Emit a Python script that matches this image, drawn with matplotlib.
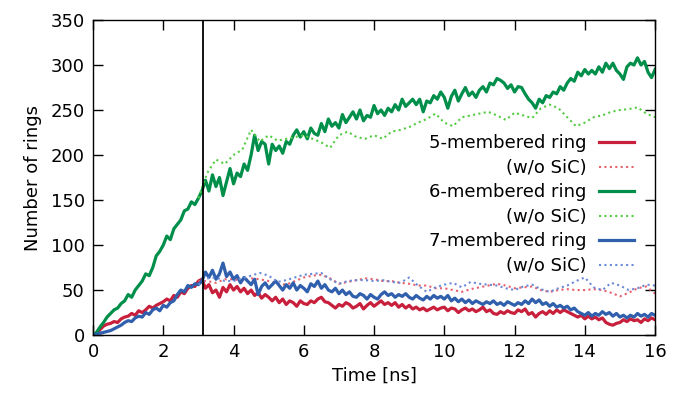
import numpy as np
import matplotlib
matplotlib.use("Agg")
import matplotlib.pyplot as plt

# time axis for the SiC runs (0.1 ns steps) and the w/o SiC runs (0.25 ns steps, after the split)
t = np.round(np.arange(0, 16.01, 0.1), 2)
t_ref = np.round(np.arange(3.0, 16.01, 0.25), 2)
t_sic = 3.13  # SiC inserted here

ring5 = [0, 2, 6, 10, 12, 13, 15, 14, 18, 20,
         21, 24, 22, 27, 25, 28, 32, 30, 33, 35,
         37, 40, 38, 44, 42, 48, 46, 52, 55, 54,
         60, 62, 52, 56, 47, 50, 42, 53, 48, 56,
         50, 54, 48, 52, 46, 50, 44, 47, 41, 45,
         42, 38, 42, 36, 40, 34, 38, 36, 32, 38,
         35, 34, 38, 36, 40, 42, 37, 36, 33, 30,
         34, 32, 36, 34, 30, 32, 35, 29, 33, 36,
         32, 35, 38, 34, 36, 33, 36, 31, 34, 30,
         33, 29, 31, 28, 30, 27, 29, 31, 28, 30,
         31, 27, 30, 29, 25, 28, 30, 27, 29, 26,
         28, 31, 26, 28, 24, 23, 26, 24, 27, 25,
         24, 28, 26, 29, 23, 25, 20, 24, 26, 23,
         27, 24, 28, 25, 28, 26, 24, 22, 20, 22,
         18, 21, 18, 20, 17, 19, 14, 12, 11, 13,
         14, 17, 15, 18, 16, 17, 14, 18, 16, 19,
         17]

ring6 = [0, 3, 9, 14, 20, 24, 28, 30, 35, 38,
         45, 42, 50, 55, 60, 68, 66, 75, 88, 93,
         100, 110, 106, 118, 123, 128, 138, 140, 148, 145,
         152, 160, 172, 160, 178, 165, 175, 155, 170, 185,
         168, 180, 176, 190, 183, 200, 222, 205, 215, 212,
         190, 212, 205, 210, 202, 215, 212, 222, 228, 220,
         226, 218, 230, 224, 222, 235, 226, 240, 232, 236,
         230, 245, 236, 242, 248, 240, 250, 238, 244, 242,
         255, 246, 250, 244, 252, 248, 256, 250, 262, 254,
         258, 262, 256, 262, 248, 260, 258, 266, 262, 270,
         264, 252, 265, 272, 260, 268, 275, 266, 270, 264,
         272, 276, 270, 280, 278, 285, 283, 280, 274, 278,
         270, 276, 275, 268, 262, 258, 252, 262, 258, 266,
         264, 270, 268, 276, 272, 280, 285, 282, 292, 288,
         295, 290, 294, 290, 298, 292, 302, 296, 302, 294,
         290, 284, 298, 302, 300, 308, 300, 304, 292, 286,
         295]

ring7 = [0, 1, 2, 3, 4, 5, 7, 9, 11, 14,
         16, 15, 19, 21, 20, 25, 23, 28, 30, 27,
         33, 31, 36, 38, 45, 50, 48, 55, 53, 57,
         56, 60, 70, 64, 72, 62, 68, 80, 65, 70,
         62, 66, 58, 64, 60, 56, 62, 45, 54, 58,
         52, 56, 60, 55, 50, 56, 52, 58, 50, 55,
         52, 48, 57, 54, 60, 52, 56, 50, 48, 52,
         46, 50, 45, 48, 43, 42, 46, 44, 40, 45,
         42, 40, 45, 48, 44, 46, 42, 45, 43, 46,
         42, 40, 44, 41, 39, 43, 40, 44, 41, 43,
         40, 44, 38, 41, 37, 40, 36, 39, 35, 38,
         36, 34, 37, 35, 38, 34, 36, 33, 37, 35,
         33, 36, 34, 38, 35, 40, 36, 39, 34, 36,
         32, 35, 31, 33, 30, 32, 28, 30, 26, 24,
         22, 25, 21, 24, 22, 26, 23, 25, 21, 24,
         20, 22, 19, 22, 20, 24, 21, 23, 20, 24,
         22]

ring5_ref = [60, 60, 58, 62, 62, 60, 63, 62, 60, 57, 56, 60, 64, 66, 67, 63,
             57, 59, 61, 63, 62, 60, 60, 58, 57, 55, 55, 52, 52, 50, 48, 51,
             53, 55, 57, 55, 52, 53, 54, 50, 48, 50, 51, 50, 50, 51, 50, 47,
             43, 47, 52, 54, 46]
ring6_ref = [152, 180, 195, 190, 200, 206, 228, 215, 222, 216, 218, 220, 222, 218, 214, 208,
             222, 226, 220, 218, 222, 218, 226, 228, 231, 236, 240, 246, 236, 232, 242, 244,
             246, 248, 244, 239, 247, 244, 241, 252, 256, 252, 242, 232, 236, 242, 244, 248,
             250, 251, 253, 246, 242]
ring7_ref = [56, 63, 64, 60, 60, 63, 66, 69, 66, 59, 61, 64, 67, 68, 69, 62,
             57, 60, 61, 61, 60, 61, 59, 58, 64, 55, 48, 53, 56, 58, 53, 59,
             57, 56, 55, 52, 50, 54, 56, 51, 48, 52, 55, 60, 64, 53, 50, 58,
             55, 50, 52, 56, 55]

red, red_l = "#c8203c", "#e8606e"
green, green_l = "#008f4a", "#55cc44"
blue, blue_l = "#2f5fad", "#6a8ad8"
dots = (0, (1, 1.6))

plt.rcParams["font.family"] = "DejaVu Sans"
fig = plt.figure(figsize=(6.81, 3.97), dpi=100)
ax = fig.add_axes([0.1366, 0.156, 0.8253, 0.7936])

ax.plot(t, ring5, color=red, lw=2.3, label="5-membered ring")
ax.plot(t_ref, ring5_ref, color=red_l, lw=1.5, ls=dots, label="(w/o SiC)")
ax.plot(t, ring6, color=green, lw=2.3, label="6-membered ring")
ax.plot(t_ref, ring6_ref, color=green_l, lw=1.5, ls=dots, label="(w/o SiC)")
ax.plot(t, ring7, color=blue, lw=2.3, label="7-membered ring")
ax.plot(t_ref, ring7_ref, color=blue_l, lw=1.5, ls=dots, label="(w/o SiC)")
ax.axvline(t_sic, color="black", lw=1.3)

ax.set_xlim(0, 16)
ax.set_ylim(0, 350)
ax.set_xticks(range(0, 17, 2))
ax.set_yticks(range(0, 351, 50))
ax.tick_params(direction="in", length=7, width=1, top=True, right=True, labelsize=13, pad=6)
for s in ax.spines.values():
    s.set_linewidth(1)
ax.set_xlabel("Time [ns]", fontsize=13, labelpad=4)
ax.set_ylabel("Number of rings", fontsize=13, labelpad=6)

ax.legend(loc="upper right", bbox_to_anchor=(0.975, 0.66), frameon=False, markerfirst=False,
          fontsize=13, handlelength=1.9, labelspacing=0.36, handletextpad=0.7, borderaxespad=0)

fig.savefig("out.png", dpi=100)
